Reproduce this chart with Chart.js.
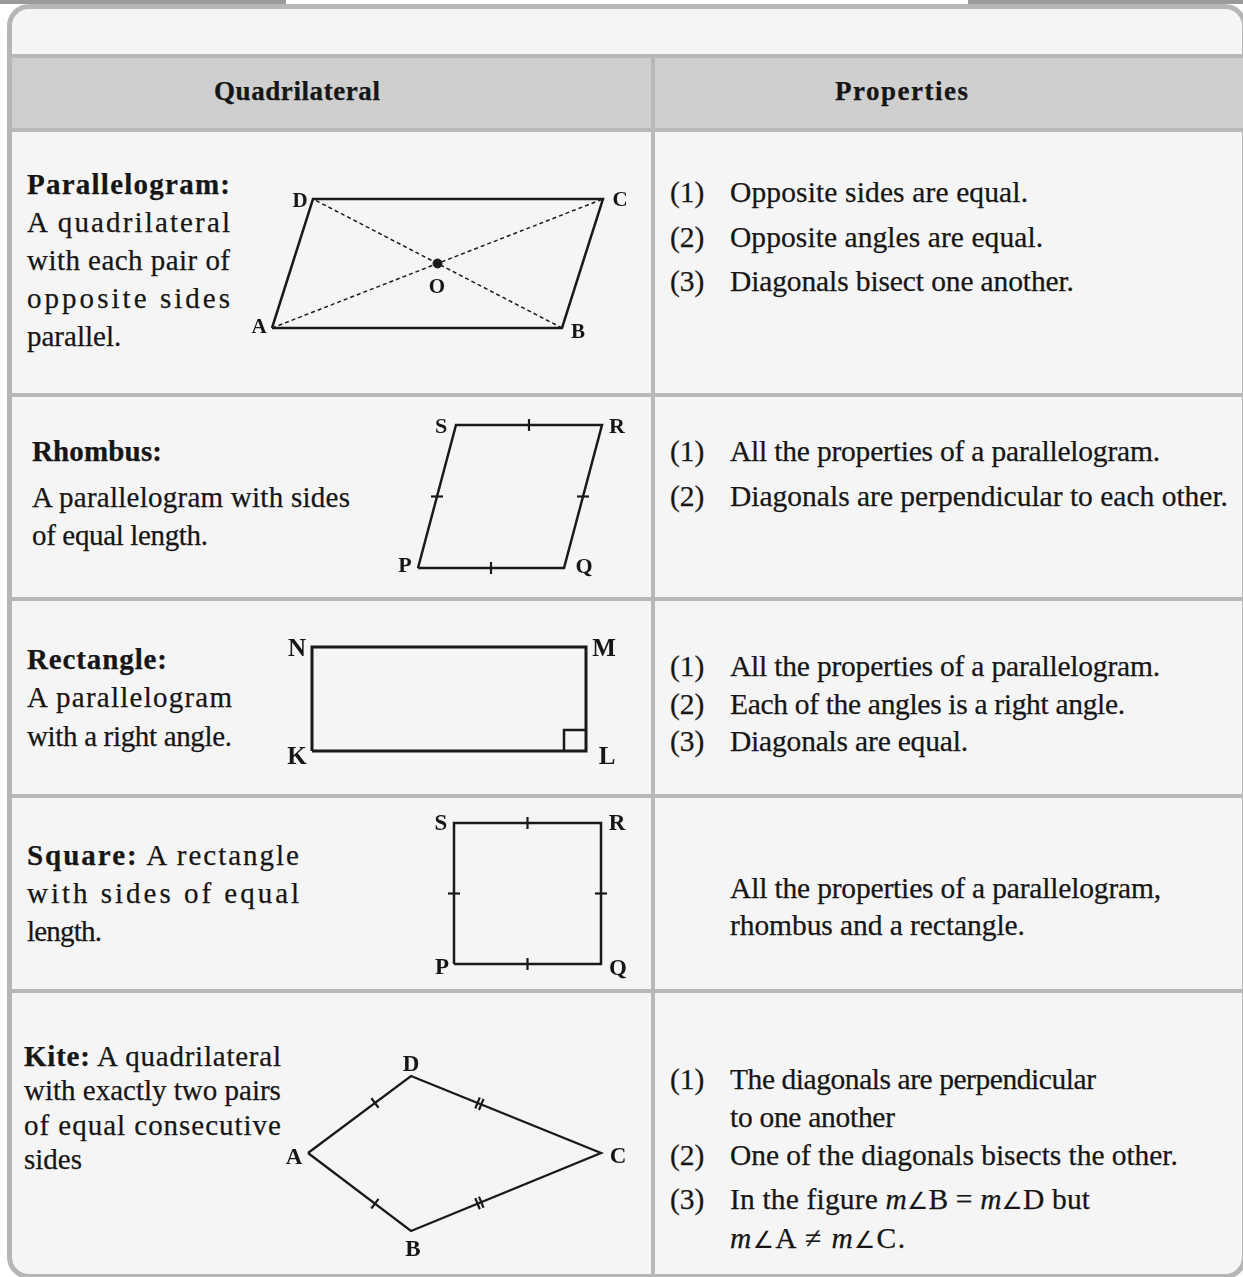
<!DOCTYPE html>
<html>
<head>
<meta charset="utf-8">
<script src="https://cdn.jsdelivr.net/npm/chart.js@4/dist/chart.umd.min.js"></script>
<style>
  html,body{margin:0;padding:0;background:#fff;}
  #page{position:relative;width:1243px;height:1277px;overflow:hidden;background:#fff;font-family:"Liberation Serif","Times New Roman",serif;color:#161616;}
  .abs{position:absolute;}
  #topband{left:0;top:0;width:1243px;height:4px;background:#9a9a9a;}
  #topwhite{left:286px;top:0;width:682px;height:4px;background:#fff;}
  #box{left:7px;top:4px;width:1230px;height:1265px;border:5px solid #b6b6b6;border-radius:22px;background:#f5f5f5;}
  #head{left:12px;top:58px;width:1240px;height:70px;background:#cfcfcf;}
  .hl{position:absolute;left:12px;width:1240px;height:4px;background:#b8b8b8;}
  .vl{position:absolute;left:651px;top:54px;width:4px;height:1240px;background:#b8b8b8;}
  .t{position:absolute;height:40px;line-height:40px;white-space:nowrap;font-size:29.5px;-webkit-text-stroke:0.25px #161616;}
  .l{font-size:29px;}
  .b{font-weight:bold;}
  .h{font-weight:bold;font-size:27px;}
  .ang{font-family:"DejaVu Sans",sans-serif;font-weight:normal;font-size:0.8em;-webkit-text-stroke:0;}
  .vx{position:absolute;font-weight:bold;line-height:1;transform:translate(-50%,-50%);white-space:nowrap;}
  canvas{position:absolute;left:0;top:0;pointer-events:none;}
</style>
</head>
<body>
<div id="page">
  <div id="topband" class="abs"></div>
  <div id="topwhite" class="abs"></div>
  <div id="box" class="abs"></div>
  <div id="head" class="abs"></div>
  <div class="hl" style="top:54px"></div>
  <div class="hl" style="top:128px"></div>
  <div class="hl" style="top:393px"></div>
  <div class="hl" style="top:597px"></div>
  <div class="hl" style="top:794px"></div>
  <div class="hl" style="top:989px"></div>
  <div class="vl"></div>

  <!-- header -->
  <div class="t h" data-fit="380" style="left:214px;top:71px">Quadrilateral</div>
  <div class="t h" data-fit="968" style="left:835px;top:71px">Properties</div>

  <!-- left column -->
  <div class="t l b" data-fit="230" style="left:27px;top:164px">Parallelogram:</div>
  <div class="t l" data-fit="230" style="left:27px;top:202px">A quadrilateral</div>
  <div class="t l" data-fit="230" style="left:27px;top:240px">with each pair of</div>
  <div class="t l" data-fit="230" style="left:27px;top:278px">opposite sides</div>
  <div class="t l" style="left:27px;top:316px">parallel.</div>

  <div class="t l b" data-fit="162" style="left:32px;top:431px">Rhombus:</div>
  <div class="t l" data-fit="350" style="left:32px;top:477px">A parallelogram with sides</div>
  <div class="t l" data-fit="208" style="left:32px;top:515px">of equal length.</div>

  <div class="t l b" data-fit="167" style="left:27px;top:639px">Rectangle:</div>
  <div class="t l" data-fit="232" style="left:27px;top:677px">A parallelogram</div>
  <div class="t l" data-fit="232" style="left:27px;top:716px">with a right angle.</div>

  <div class="t l" data-fit="299" style="left:27px;top:835px"><b>Square:</b> A rectangle</div>
  <div class="t l" data-fit="299" style="left:27px;top:873px">with sides of equal</div>
  <div class="t l" data-fit="102" style="left:27px;top:911px">length.</div>

  <div class="t l" data-fit="281" style="left:24px;top:1036px"><b>Kite:</b> A quadrilateral</div>
  <div class="t l" data-fit="281" style="left:24px;top:1070px">with exactly two pairs</div>
  <div class="t l" data-fit="281" style="left:24px;top:1105px">of equal consecutive</div>
  <div class="t l" style="left:24px;top:1139px">sides</div>

  <!-- right column -->
  <div class="t" style="left:670px;top:172px">(1)</div>
  <div class="t" data-fit="1028" style="left:730px;top:172px">Opposite sides are equal.</div>
  <div class="t" style="left:670px;top:217px">(2)</div>
  <div class="t" data-fit="1043" style="left:730px;top:217px">Opposite angles are equal.</div>
  <div class="t" style="left:670px;top:261px">(3)</div>
  <div class="t" data-fit="1074" style="left:730px;top:261px">Diagonals bisect one another.</div>

  <div class="t" style="left:670px;top:431px">(1)</div>
  <div class="t" data-fit="1160" style="left:730px;top:431px">All the properties of a parallelogram.</div>
  <div class="t" style="left:670px;top:476px">(2)</div>
  <div class="t" data-fit="1228" style="left:730px;top:476px">Diagonals are perpendicular to each other.</div>

  <div class="t" style="left:670px;top:646px">(1)</div>
  <div class="t" data-fit="1160" style="left:730px;top:646px">All the properties of a parallelogram.</div>
  <div class="t" style="left:670px;top:684px">(2)</div>
  <div class="t" data-fit="1125" style="left:730px;top:684px">Each of the angles is a right angle.</div>
  <div class="t" style="left:670px;top:721px">(3)</div>
  <div class="t" data-fit="968" style="left:730px;top:721px">Diagonals are equal.</div>

  <div class="t" data-fit="1161" style="left:730px;top:868px">All the properties of a parallelogram,</div>
  <div class="t" data-fit="1025" style="left:730px;top:905px">rhombus and a rectangle.</div>

  <div class="t" style="left:670px;top:1059px">(1)</div>
  <div class="t" data-fit="1096" style="left:730px;top:1059px">The diagonals are perpendicular</div>
  <div class="t" data-fit="895" style="left:730px;top:1097px">to one another</div>
  <div class="t" style="left:670px;top:1135px">(2)</div>
  <div class="t" data-fit="1178" style="left:730px;top:1135px">One of the diagonals bisects the other.</div>
  <div class="t" style="left:670px;top:1179px">(3)</div>
  <div class="t" data-fit="1090" style="left:730px;top:1179px">In the figure <i>m</i><span class="ang">∠</span>B = <i>m</i><span class="ang">∠</span>D but</div>
  <div class="t" data-fit="905" style="left:730px;top:1218px"><i>m</i><span class="ang">∠</span>A ≠ <i>m</i><span class="ang">∠</span>C.</div>

  <canvas id="c" width="1243" height="1277"></canvas>
</div>

<script>
// ---- Figure data (vertex coordinates, page units) ----
const parallelogramNames = ['A', 'B', 'C', 'D'];
const parallelogramX = [272, 562, 603, 313];
const parallelogramY = [328, 328, 199, 199];
const parallelogramLabelX = [259, 578, 620, 300];
const parallelogramLabelY = [326, 331, 199, 200];
const centreName = 'O';
const centreLabel = [437, 286];

const rhombusNames = ['P', 'Q', 'R', 'S'];
const rhombusX = [418, 564, 602, 456];
const rhombusY = [568, 568, 425, 425];
const rhombusLabelX = [405, 584, 617, 441];
const rhombusLabelY = [565, 566, 426, 426];

const rectangleNames = ['K', 'L', 'M', 'N'];
const rectangleX = [312, 586, 586, 312];
const rectangleY = [751, 751, 647, 647];
const rectangleLabelX = [297, 607, 604, 297];
const rectangleLabelY = [755, 755, 647, 647];

const squareNames = ['P', 'Q', 'R', 'S'];
const squareX = [454, 601, 601, 454];
const squareY = [964, 964, 823, 823];
const squareLabelX = [442, 618, 617, 441];
const squareLabelY = [966, 967, 822, 822];

const kiteNames = ['A', 'B', 'C', 'D'];
const kiteX = [308, 411, 601, 411];
const kiteY = [1153, 1231, 1153, 1076];
const kiteLabelX = [294, 413, 618, 411];
const kiteLabelY = [1156, 1248, 1155, 1063];
// equal-side marks: [fromIndex, toIndex, fraction along side, number of marks]
const kiteMarks = [[0, 3, 0.65, 1], [0, 1, 0.65, 1], [3, 2, 0.36, 2], [1, 2, 0.36, 2]];
const rhombusMarks = [[0, 1, 0.5, 1], [1, 2, 0.5, 1], [2, 3, 0.5, 1], [3, 0, 0.5, 1]];
const squareMarks = [[0, 1, 0.5, 1], [1, 2, 0.5, 1], [2, 3, 0.5, 1], [3, 0, 0.5, 1]];

// ---- fit text lines to the widths in the reference (letter-spacing) ----
document.querySelectorAll('[data-fit]').forEach(el => {
  const target = parseFloat(el.dataset.fit) - parseFloat(el.style.left);
  const span = document.createElement('span');
  while (el.firstChild) span.appendChild(el.firstChild);
  el.appendChild(span);
  const nat = span.getBoundingClientRect().width;
  const n = span.textContent.length;
  if (n > 1) el.style.letterSpacing = ((target - nat) / (n - 1)).toFixed(2) + 'px';
});

// ---- helpers ----
const INK = '#1a1a1a';
const W = 1243, H = 1277;
function pts(xs, ys, close) {
  const p = xs.map((x, i) => ({x: x, y: ys[i]}));
  if (close) p.push({x: xs[0], y: ys[0]});
  return p;
}
function outline(xs, ys, width) {
  return {type: 'line', data: pts(xs, ys, true), borderColor: INK, borderWidth: width,
    pointRadius: 0, fill: false, tension: 0, borderJoinStyle: 'miter', showLine: true};
}
function segment(p1, p2, width, dash) {
  return {type: 'line', data: [p1, p2], borderColor: INK, borderWidth: width, borderDash: dash || [],
    pointRadius: 0, fill: false, tension: 0, showLine: true};
}
// marks: mode 'axis' -> tick aligned to nearest axis, 'perp' -> perpendicular to side
function marks(xs, ys, spec, mode) {
  const data = [], rot = [];
  spec.forEach(([a, b, t, n]) => {
    const dx = xs[b] - xs[a], dy = ys[b] - ys[a];
    const len = Math.hypot(dx, dy);
    const ang = Math.atan2(dy, dx) * 180 / Math.PI;
    const r = mode === 'axis' ? (Math.abs(dy) < 1 ? 90 : 0) : ang + 90;
    for (let k = 0; k < n; k++) {
      const off = (k - (n - 1) / 2) * 4;
      data.push({x: xs[a] + dx * t + dx / len * off, y: ys[a] + dy * t + dy / len * off});
      rot.push(r);
    }
  });
  return {type: 'scatter', data: data, pointStyle: 'line', pointRadius: 6, pointRotation: rot,
    pointBorderColor: INK, pointBorderWidth: 2.2, showLine: false};
}

const pA = {x: parallelogramX[0], y: parallelogramY[0]};
const pB = {x: parallelogramX[1], y: parallelogramY[1]};
const pC = {x: parallelogramX[2], y: parallelogramY[2]};
const pD = {x: parallelogramX[3], y: parallelogramY[3]};
const centre = {x: (pA.x + pC.x) / 2, y: (pA.y + pC.y) / 2};

const RA = 21; // right-angle mark size
const Lx = rectangleX[1], Ly = rectangleY[1];

const datasets = [
  segment(pA, pC, 1.5, [4, 3]),
  segment(pB, pD, 1.5, [4, 3]),
  outline(parallelogramX, parallelogramY, 2.5),
  {type: 'scatter', data: [centre], pointRadius: 4.5, pointBackgroundColor: INK, pointBorderColor: INK, showLine: false},
  outline(rhombusX, rhombusY, 2.5),
  marks(rhombusX, rhombusY, rhombusMarks, 'axis'),
  outline(rectangleX, rectangleY, 3),
  {type: 'line', data: [{x: Lx - RA - 1, y: Ly}, {x: Lx - RA - 1, y: Ly - RA}, {x: Lx, y: Ly - RA}],
    borderColor: INK, borderWidth: 2.5, pointRadius: 0, fill: false, tension: 0, borderJoinStyle: 'miter'},
  outline(squareX, squareY, 2.5),
  marks(squareX, squareY, squareMarks, 'axis'),
  outline(kiteX, kiteY, 2.3),
  marks(kiteX, kiteY, kiteMarks, 'perp')
];

const labelSets = [
  {names: parallelogramNames.concat([centreName]), xs: parallelogramLabelX.concat([centreLabel[0]]), ys: parallelogramLabelY.concat([centreLabel[1]]), size: 21},
  {names: rhombusNames, xs: rhombusLabelX, ys: rhombusLabelY, size: 22},
  {names: rectangleNames, xs: rectangleLabelX, ys: rectangleLabelY, size: 25},
  {names: squareNames, xs: squareLabelX, ys: squareLabelY, size: 23},
  {names: kiteNames, xs: kiteLabelX, ys: kiteLabelY, size: 23}
];

const labelPlugin = {
  id: 'vertexLabels',
  afterRender(chart) {
    if (chart._labelsDone) return;
    chart._labelsDone = true;
    const page = document.getElementById('page');
    const sx = chart.scales.x, sy = chart.scales.y;
    labelSets.forEach(set => {
      set.names.forEach((nm, i) => {
        const d = document.createElement('div');
        d.className = 'vx';
        d.textContent = nm;
        d.style.fontSize = set.size + 'px';
        d.style.left = sx.getPixelForValue(set.xs[i]) + 'px';
        d.style.top = sy.getPixelForValue(set.ys[i]) + 'px';
        page.appendChild(d);
      });
    });
  }
};

new Chart(document.getElementById('c').getContext('2d'), {
  type: 'scatter',
  data: {datasets: datasets},
  options: {
    responsive: false,
    animation: false,
    events: [],
    layout: {padding: 0, autoPadding: false},
    plugins: {legend: {display: false}, tooltip: {enabled: false}},
    scales: {
      x: {type: 'linear', min: 0, max: W, display: false},
      y: {type: 'linear', min: 0, max: H, reverse: true, display: false}
    }
  },
  plugins: [labelPlugin]
});
</script>
</body>
</html>
